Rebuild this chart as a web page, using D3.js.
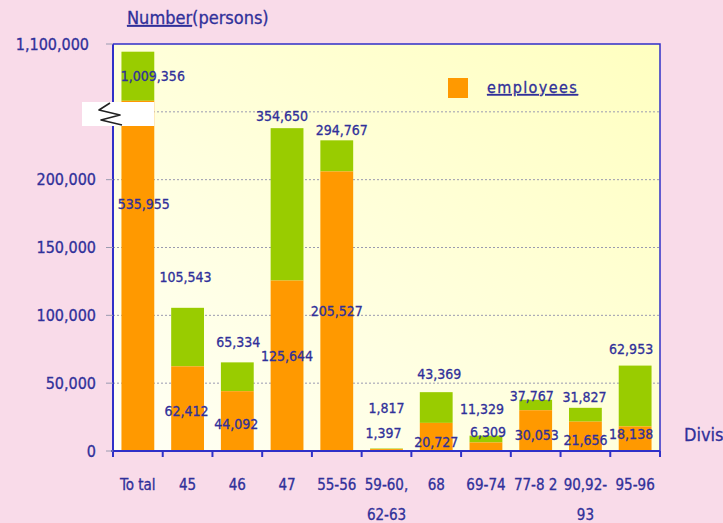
<!DOCTYPE html>
<html lang="en">
<head>
  <meta charset="UTF-8">
  <title>Number of persons by division</title>
  <script src="https://d3js.org/d3.v7.min.js"></script>
  <style>
    body {
      margin: 0;
      background: #f9dbe9;
      font-family: "DejaVu Sans Condensed", "DejaVu Sans", sans-serif;
      overflow: hidden;
    }
    .lbl {
      fill: #30309a;
      stroke: #30309a;
      stroke-width: 0.3;
    }
    .grid {
      stroke: #9a9ab0;
      stroke-dasharray: 2,2;
      stroke-width: 1;
    }
  </style>
</head>
<body>
  <div id="chart"></div>

  <script>
    // data
    const categories = [["To tal"], ["45"], ["46"], ["47"], ["55-56"], ["59-60,", "62-63"],
                        ["68"], ["69-74"], ["77-8 2"], ["90,92-", "93"], ["95-96"]];
    const totals = [1009356, 105543, 65334, 354650, 294767, 1817, 43369, 11329, 37767, 31827, 62953];
    const employees = [535955, 62412, 44092, 125644, 205527, 1397, 20727, 6309, 30053, 21656, 18138];
    const yTickValues = [0, 50000, 100000, 150000, 200000];
    const gridValues = [50000, 100000, 150000, 200000, 250000];
    const topTickLabel = "1,100,000";

    // label nudges (layout only)
    const topDx = [15, -2, 1, -5, 5, 0, 3, -4, -4, -1, -4];
    const topDy = [24, -31, -20, -12, -10, -41, -18, -27, -4, -11, -17];
    const empDx = [6, -1, -1, 0, 0, -3, 0, 2, 1, 0, -4];
    const empDy = [103, 45, 33, 75, 140, -16, 19, -10, 25, 18, 8];

    const W = 723, H = 523;
    const plotL = 113, plotR = 660, plotT = 44, plotB = 451;

    const svg = d3.select("#chart").append("svg")
      .attr("width", W)
      .attr("height", H);

    const keys = categories.map(c => c.join(" "));
    const x = d3.scaleBand()
      .domain(keys)
      .range([plotL, plotR])
      .paddingInner(0.34)
      .paddingOuter(0.17);

    // linear scale for the lower part, compressed scale above the break
    const yLin = d3.scaleLinear().domain([0, 300000]).range([plotB, plotT]);
    const yHigh = d3.scalePow().exponent(0.55).domain([0, 900000]).range([yLin(200000), plotT]);
    const y = v => v <= 200000 ? yLin(v) : yHigh(v - 200000);

    const fmt = d3.format(",");

    // plot background
    const defs = svg.append("defs");
    const grad = defs.append("linearGradient")
      .attr("id", "bg")
      .attr("x1", "100%").attr("y1", "0%")
      .attr("x2", "0%").attr("y2", "100%");
    grad.append("stop").attr("offset", "0%").attr("stop-color", "#ffffc0");
    grad.append("stop").attr("offset", "100%").attr("stop-color", "#fffff6");

    svg.append("rect")
      .attr("x", plotL).attr("y", plotT)
      .attr("width", plotR - plotL).attr("height", plotB - plotT)
      .attr("fill", "url(#bg)");

    // gridlines
    svg.append("g")
      .selectAll("line")
      .data(gridValues)
      .enter()
      .append("line")
      .attr("class", "grid")
      .attr("x1", plotL).attr("x2", plotR)
      .attr("y1", d => yLin(d)).attr("y2", d => yLin(d));

    // bars
    const bars = svg.append("g")
      .selectAll("g")
      .data(keys)
      .enter()
      .append("g");

    bars.append("rect")
      .attr("x", d => x(d))
      .attr("width", x.bandwidth())
      .attr("y", (d, i) => y(totals[i]))
      .attr("height", (d, i) => y(employees[i]) - y(totals[i]))
      .attr("fill", "#99cc00");

    bars.append("rect")
      .attr("x", d => x(d))
      .attr("width", x.bandwidth())
      .attr("y", (d, i) => y(employees[i]))
      .attr("height", (d, i) => y(0) - y(employees[i]))
      .attr("fill", "#ff9900");

    // frame + axes
    svg.append("path")
      .attr("d", `M${plotL},${plotT}H${plotR}V${plotB}`)
      .attr("fill", "none")
      .attr("stroke", "#3030c8")
      .attr("stroke-width", 1.5);

    svg.append("line")
      .attr("x1", plotL).attr("x2", plotL)
      .attr("y1", plotT).attr("y2", plotB + 6)
      .attr("stroke", "#3030c8")
      .attr("stroke-width", 2);

    svg.append("line")
      .attr("x1", plotL - 2).attr("x2", plotR)
      .attr("y1", plotB).attr("y2", plotB)
      .attr("stroke", "#3030c8")
      .attr("stroke-width", 2);

    // x ticks at band boundaries
    const step = x.step();
    const xTicks = keys.map(d => x(d) + x.bandwidth() / 2 - step / 2).concat([plotR]);
    svg.append("g")
      .selectAll("line")
      .data(xTicks)
      .enter()
      .append("line")
      .attr("x1", d => d).attr("x2", d => d)
      .attr("y1", plotB).attr("y2", plotB + 6)
      .attr("stroke", "#3030c8")
      .attr("stroke-width", 2);

    // x labels
    svg.append("g")
      .selectAll("text")
      .data(categories)
      .enter()
      .append("text")
      .attr("class", "lbl")
      .attr("font-size", 15)
      .attr("text-anchor", "middle")
      .attr("y", 490)
      .each(function (d, i) {
        const cx = x(keys[i]) + x.bandwidth() / 2;
        d.forEach((line, j) => {
          d3.select(this).append("tspan")
            .attr("x", cx)
            .attr("dy", j === 0 ? 0 : 30)
            .text(line);
        });
      });

    // y ticks + labels
    const yAxis = svg.append("g");
    yAxis.selectAll("line")
      .data(yTickValues.concat([300000]))
      .enter()
      .append("line")
      .attr("x1", plotL - 7).attr("x2", plotL)
      .attr("y1", d => yLin(d)).attr("y2", d => yLin(d))
      .attr("stroke", "#9a9ab0");

    yAxis.selectAll("text")
      .data(yTickValues)
      .enter()
      .append("text")
      .attr("class", "lbl")
      .attr("font-size", 16)
      .attr("text-anchor", "end")
      .attr("dominant-baseline", "central")
      .attr("x", 96)
      .attr("y", d => yLin(d))
      .text(d => fmt(d));

    yAxis.append("text")
      .attr("class", "lbl")
      .attr("font-size", 16)
      .attr("text-anchor", "end")
      .attr("dominant-baseline", "central")
      .attr("x", 89)
      .attr("y", yLin(300000))
      .text(topTickLabel);

    // axis break
    const breakT = 102, breakB = 126;
    svg.append("rect")
      .attr("x", 82).attr("y", breakT)
      .attr("width", x(keys[0]) + x.bandwidth() - 82)
      .attr("height", breakB - breakT)
      .attr("fill", "#ffffff");

    const zig = [[110, 103], [99, 110], [120, 115], [101, 120], [122, 125]];
    svg.append("path")
      .attr("d", d3.line()(zig))
      .attr("fill", "none")
      .attr("stroke", "#222")
      .attr("stroke-width", 1.6)
      .attr("stroke-linejoin", "round");

    // value labels
    const labels = svg.append("g")
      .attr("font-size", 14)
      .attr("text-anchor", "middle")
      .attr("dominant-baseline", "central");

    labels.selectAll(".tot")
      .data(totals)
      .enter()
      .append("text")
      .attr("class", "lbl tot")
      .attr("x", (d, i) => x(keys[i]) + x.bandwidth() / 2 + topDx[i])
      .attr("y", (d, i) => y(d) + topDy[i])
      .text(d => fmt(d));

    labels.selectAll(".emp")
      .data(employees)
      .enter()
      .append("text")
      .attr("class", "lbl emp")
      .attr("x", (d, i) => x(keys[i]) + x.bandwidth() / 2 + empDx[i])
      .attr("y", (d, i) => y(d) + empDy[i])
      .text(d => fmt(d));

    // titles
    const title = svg.append("text")
      .attr("class", "lbl")
      .attr("font-size", 18)
      .attr("x", 127)
      .attr("y", 24);
    title.append("tspan").attr("text-decoration", "underline").text("Number");
    title.append("tspan").text("(persons)");

    svg.append("text")
      .attr("class", "lbl")
      .attr("font-size", 18)
      .attr("x", 684)
      .attr("y", 441)
      .text("Division");

    // legend
    svg.append("rect")
      .attr("x", 448).attr("y", 78)
      .attr("width", 20).attr("height", 20)
      .attr("fill", "#ff9900");

    svg.append("text")
      .attr("class", "lbl")
      .attr("font-size", 16)
      .attr("letter-spacing", 1.4)
      .attr("text-decoration", "underline")
      .attr("x", 487)
      .attr("y", 93)
      .text("employees");
  </script>
</body>
</html>
